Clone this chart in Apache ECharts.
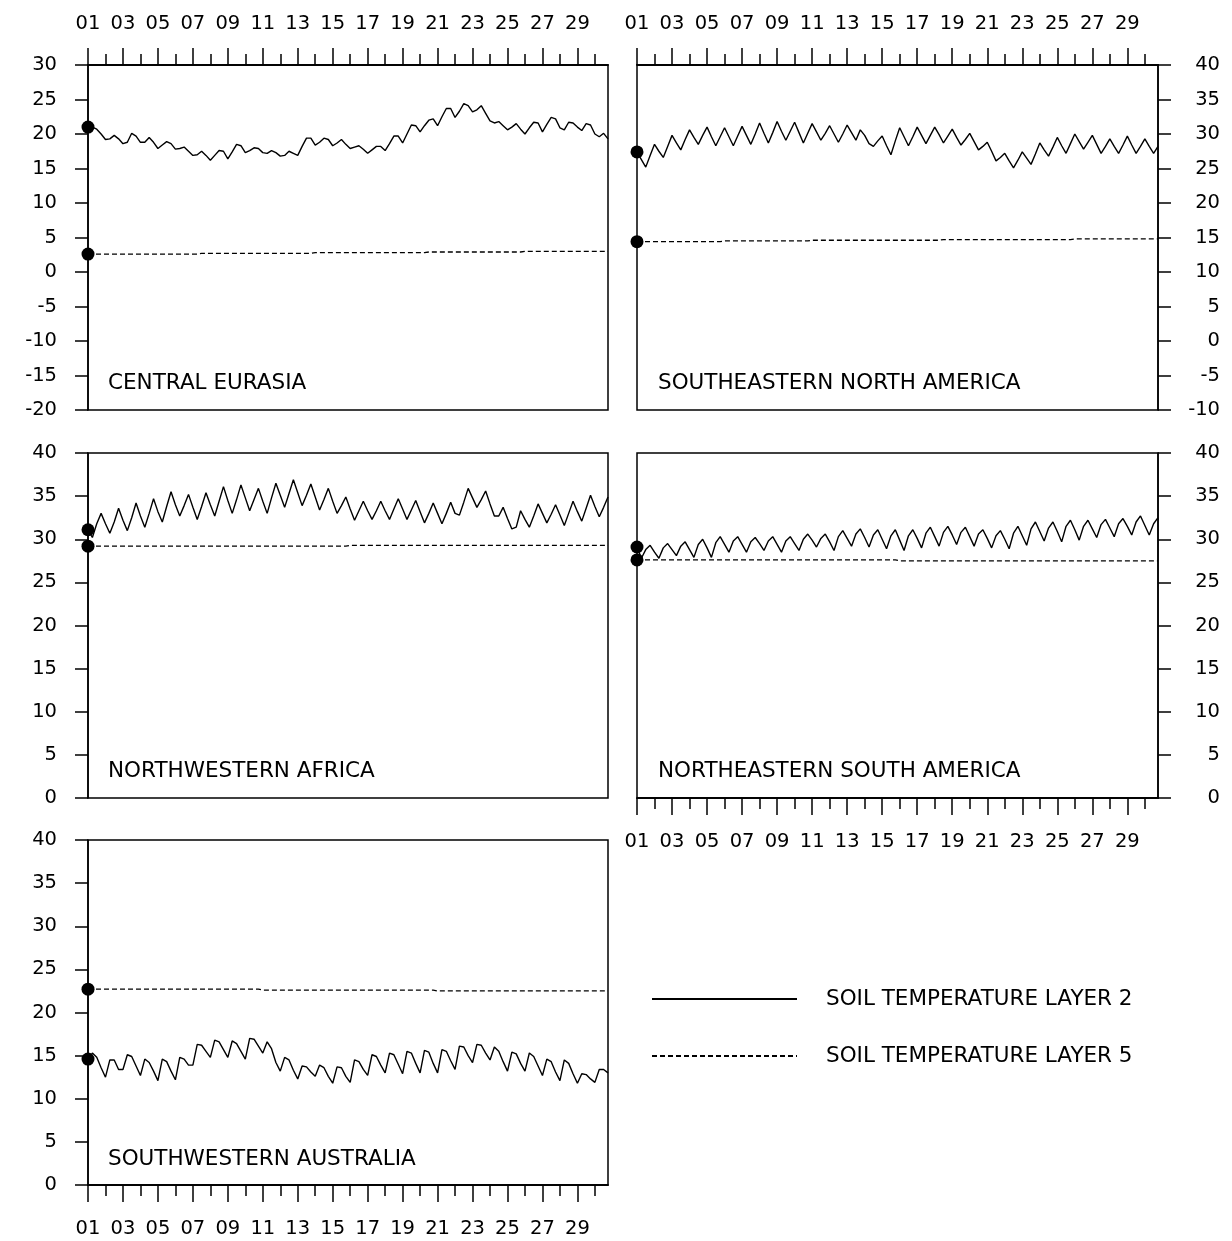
<!DOCTYPE html>
<html>
<head>
<meta charset="utf-8">
<script src="https://cdn.jsdelivr.net/npm/echarts@6/dist/echarts.min.js"></script>
<style>
html,body{margin:0;padding:0;background:#fff;}
#c{width:1232px;height:1241px;}
</style>
</head>
<body>
<div id="c"></div>
<script>
// ---------- data ----------
const days = ['01','02','03','04','05','06','07','08','09','10','11','12','13','14','15','16','17','18','19','20','21','22','23','24','25','26','27','28','29','30'];
const hours = ['00Z','06Z','12Z','18Z'];

const regionNames = ['CENTRAL EURASIA','SOUTHEASTERN NORTH AMERICA','NORTHWESTERN AFRICA','NORTHEASTERN SOUTH AMERICA','SOUTHWESTERN AUSTRALIA'];
const legendNames = ['SOIL TEMPERATURE LAYER 2','SOIL TEMPERATURE LAYER 5'];

// Central Eurasia
const ce2 = [21.0,21.0,20.7,20.0,19.2,19.3,19.8,19.3,18.6,18.8,
20.1,19.7,18.8,18.8,19.5,18.8,17.9,18.4,18.9,18.6,
17.8,17.9,18.1,17.5,16.9,17.0,17.5,16.9,16.2,16.9,
17.6,17.5,16.4,17.4,18.5,18.3,17.3,17.6,18.0,17.9,
17.3,17.2,17.6,17.3,16.8,16.9,17.5,17.2,16.9,18.2,
19.4,19.4,18.4,18.8,19.4,19.2,18.3,18.7,19.2,18.5,
17.9,18.1,18.3,17.8,17.2,17.7,18.2,18.2,17.6,18.6,
19.7,19.7,18.7,20.0,21.3,21.2,20.3,21.2,22.0,22.2,
21.2,22.5,23.7,23.7,22.4,23.3,24.4,24.1,23.2,23.5,
24.1,23.0,21.9,21.6,21.8,21.2,20.6,21.0,21.5,20.7,
20.0,20.9,21.7,21.6,20.3,21.4,22.4,22.2,20.9,20.6,
21.7,21.6,21.0,20.5,21.5,21.3,20.0,19.6,20.1,19.3];
const ce5 = [2.6,2.6,2.6,2.6,2.6,2.6,2.6,2.6,2.6,2.6,
2.6,2.6,2.6,2.6,2.6,2.6,2.6,2.6,2.6,2.6,
2.6,2.6,2.6,2.6,2.6,2.6,2.7,2.7,2.7,2.7,
2.7,2.7,2.7,2.7,2.7,2.7,2.7,2.7,2.7,2.7,
2.7,2.7,2.7,2.7,2.7,2.7,2.7,2.7,2.7,2.7,
2.7,2.7,2.8,2.8,2.8,2.8,2.8,2.8,2.8,2.8,
2.8,2.8,2.8,2.8,2.8,2.8,2.8,2.8,2.8,2.8,
2.8,2.8,2.8,2.8,2.8,2.8,2.8,2.8,2.9,2.9,
2.9,2.9,2.9,2.9,2.9,2.9,2.9,2.9,2.9,2.9,
2.9,2.9,2.9,2.9,2.9,2.9,2.9,2.9,2.9,2.9,
3.0,3.0,3.0,3.0,3.0,3.0,3.0,3.0,3.0,3.0,
3.0,3.0,3.0,3.0,3.0,3.0,3.0,3.0,3.0,3.0];

// Southeastern North America
const sna2 = [27.4,26.3,25.2,26.9,28.5,27.5,26.6,28.2,29.8,28.7,
27.7,29.2,30.6,29.5,28.5,29.8,31.0,29.6,28.3,29.6,
30.9,29.6,28.3,29.7,31.1,29.8,28.5,30.0,31.6,30.1,
28.7,30.2,31.8,30.4,29.1,30.4,31.7,30.2,28.7,30.1,
31.5,30.3,29.1,30.1,31.2,30.0,28.8,30.0,31.3,30.2,
29.1,30.6,29.8,28.6,28.2,29.0,29.7,28.3,27.0,29.0,
30.9,29.6,28.3,29.6,31.0,29.8,28.6,29.8,31.0,29.9,
28.7,29.7,30.7,29.5,28.4,29.2,30.1,28.9,27.7,28.2,
28.8,27.5,26.1,26.6,27.2,26.1,25.1,26.2,27.4,26.5,
25.6,27.1,28.7,27.7,26.8,28.1,29.5,28.3,27.2,28.6,
30.0,28.9,27.8,28.8,29.8,28.5,27.2,28.2,29.3,28.2,
27.2,28.4,29.7,28.4,27.2,28.2,29.3,28.2,27.2,28.2];
const sna5 = [14.4,14.4,14.4,14.4,14.4,14.4,14.4,14.4,14.4,14.4,
14.4,14.4,14.4,14.4,14.4,14.4,14.4,14.4,14.4,14.4,
14.5,14.5,14.5,14.5,14.5,14.5,14.5,14.5,14.5,14.5,
14.5,14.5,14.5,14.5,14.5,14.5,14.5,14.5,14.5,14.5,
14.6,14.6,14.6,14.6,14.6,14.6,14.6,14.6,14.6,14.6,
14.6,14.6,14.6,14.6,14.6,14.6,14.6,14.6,14.6,14.6,
14.6,14.6,14.6,14.6,14.6,14.6,14.6,14.6,14.6,14.6,
14.7,14.7,14.7,14.7,14.7,14.7,14.7,14.7,14.7,14.7,
14.7,14.7,14.7,14.7,14.7,14.7,14.7,14.7,14.7,14.7,
14.7,14.7,14.7,14.7,14.7,14.7,14.7,14.7,14.7,14.7,
14.8,14.8,14.8,14.8,14.8,14.8,14.8,14.8,14.8,14.8,
14.8,14.8,14.8,14.8,14.8,14.8,14.8,14.8,14.8,14.8];

// Northwestern Africa
const nwa2 = [31.1,30.2,31.8,33.0,31.8,30.7,32.0,33.6,32.2,31.0,
32.5,34.2,32.7,31.4,33.0,34.7,33.2,32.0,33.8,35.5,
34.0,32.7,33.9,35.2,33.7,32.3,33.8,35.4,34.0,32.7,
34.4,36.1,34.5,33.0,34.6,36.3,34.8,33.3,34.6,35.9,
34.4,33.0,34.8,36.5,35.1,33.7,35.3,36.9,35.4,33.9,
35.1,36.4,34.9,33.4,34.6,35.9,34.4,33.0,33.9,34.9,
33.5,32.2,33.3,34.4,33.3,32.3,33.3,34.4,33.3,32.3,
33.5,34.7,33.5,32.3,33.4,34.5,33.2,31.9,33.0,34.2,
33.0,31.8,33.0,34.3,33.0,32.8,34.3,35.9,34.8,33.7,
34.6,35.6,34.1,32.7,32.7,33.7,32.4,31.2,31.4,33.3,
32.3,31.4,32.7,34.1,33.0,31.9,32.9,34.0,32.8,31.6,
33.0,34.4,33.2,32.1,33.6,35.1,33.8,32.6,33.7,34.9];
const nwa5 = [29.2,29.2,29.2,29.2,29.2,29.2,29.2,29.2,29.2,29.2,
29.2,29.2,29.2,29.2,29.2,29.2,29.2,29.2,29.2,29.2,
29.2,29.2,29.2,29.2,29.2,29.2,29.2,29.2,29.2,29.2,
29.2,29.2,29.2,29.2,29.2,29.2,29.2,29.2,29.2,29.2,
29.2,29.2,29.2,29.2,29.2,29.2,29.2,29.2,29.2,29.2,
29.2,29.2,29.2,29.2,29.2,29.2,29.2,29.2,29.2,29.2,
29.3,29.3,29.3,29.3,29.3,29.3,29.3,29.3,29.3,29.3,
29.3,29.3,29.3,29.3,29.3,29.3,29.3,29.3,29.3,29.3,
29.3,29.3,29.3,29.3,29.3,29.3,29.3,29.3,29.3,29.3,
29.3,29.3,29.3,29.3,29.3,29.3,29.3,29.3,29.3,29.3,
29.3,29.3,29.3,29.3,29.3,29.3,29.3,29.3,29.3,29.3,
29.3,29.3,29.3,29.3,29.3,29.3,29.3,29.3,29.3,29.3];

// Northeastern South America
const nesa2 = [29.1,27.8,28.8,29.3,28.5,27.8,29.0,29.5,28.8,28.1,
29.2,29.7,28.8,27.9,29.4,30.0,29.0,27.9,29.6,30.3,
29.4,28.5,29.8,30.3,29.4,28.5,29.7,30.2,29.5,28.7,
29.8,30.3,29.4,28.5,29.8,30.3,29.5,28.7,30.0,30.6,
29.9,29.1,30.1,30.6,29.7,28.7,30.3,31.0,30.1,29.2,
30.6,31.2,30.2,29.1,30.5,31.1,30.0,28.9,30.4,31.1,
29.9,28.7,30.4,31.1,30.1,29.0,30.7,31.4,30.3,29.2,
30.8,31.5,30.5,29.4,30.8,31.4,30.3,29.2,30.6,31.1,
30.1,29.0,30.4,31.0,30.0,28.9,30.7,31.5,30.4,29.3,
31.2,32.0,30.9,29.8,31.3,32.0,30.9,29.7,31.5,32.2,
31.1,29.9,31.5,32.2,31.2,30.2,31.7,32.3,31.3,30.3,
31.8,32.4,31.5,30.5,32.0,32.7,31.6,30.5,31.8,32.5];
const nesa5 = [27.6,27.6,27.6,27.6,27.6,27.6,27.6,27.6,27.6,27.6,
27.6,27.6,27.6,27.6,27.6,27.6,27.6,27.6,27.6,27.6,
27.6,27.6,27.6,27.6,27.6,27.6,27.6,27.6,27.6,27.6,
27.6,27.6,27.6,27.6,27.6,27.6,27.6,27.6,27.6,27.6,
27.6,27.6,27.6,27.6,27.6,27.6,27.6,27.6,27.6,27.6,
27.6,27.6,27.6,27.6,27.6,27.6,27.6,27.6,27.6,27.6,
27.5,27.5,27.5,27.5,27.5,27.5,27.5,27.5,27.5,27.5,
27.5,27.5,27.5,27.5,27.5,27.5,27.5,27.5,27.5,27.5,
27.5,27.5,27.5,27.5,27.5,27.5,27.5,27.5,27.5,27.5,
27.5,27.5,27.5,27.5,27.5,27.5,27.5,27.5,27.5,27.5,
27.5,27.5,27.5,27.5,27.5,27.5,27.5,27.5,27.5,27.5,
27.5,27.5,27.5,27.5,27.5,27.5,27.5,27.5,27.5,27.5];

// Southwestern Australia
const swa2 = [14.6,15.3,14.8,13.6,12.5,14.5,14.5,13.4,13.4,15.1,
14.9,13.8,12.7,14.6,14.2,13.2,12.1,14.6,14.3,13.2,
12.2,14.8,14.6,13.9,13.9,16.3,16.2,15.5,14.8,16.8,
16.6,15.7,14.8,16.7,16.4,15.5,14.6,17.0,16.9,16.1,
15.3,16.6,15.8,14.2,13.2,14.8,14.5,13.3,12.3,13.8,
13.7,13.1,12.6,13.9,13.6,12.6,11.8,13.7,13.6,12.6,
11.9,14.5,14.3,13.4,12.7,15.1,14.9,13.9,13.0,15.3,
15.1,14.0,12.9,15.5,15.3,14.1,13.0,15.6,15.4,14.1,
13.0,15.7,15.5,14.4,13.4,16.1,16.0,15.0,14.2,16.3,
16.2,15.3,14.5,16.0,15.5,14.3,13.2,15.4,15.2,14.1,
13.2,15.3,14.9,13.8,12.7,14.6,14.3,13.1,12.1,14.5,
14.1,12.9,11.8,12.9,12.8,12.3,11.9,13.4,13.4,13.0];
const swa5 = [22.7,22.7,22.7,22.7,22.7,22.7,22.7,22.7,22.7,22.7,
22.7,22.7,22.7,22.7,22.7,22.7,22.7,22.7,22.7,22.7,
22.7,22.7,22.7,22.7,22.7,22.7,22.7,22.7,22.7,22.7,
22.7,22.7,22.7,22.7,22.7,22.7,22.7,22.7,22.7,22.7,
22.6,22.6,22.6,22.6,22.6,22.6,22.6,22.6,22.6,22.6,
22.6,22.6,22.6,22.6,22.6,22.6,22.6,22.6,22.6,22.6,
22.6,22.6,22.6,22.6,22.6,22.6,22.6,22.6,22.6,22.6,
22.6,22.6,22.6,22.6,22.6,22.6,22.6,22.6,22.6,22.6,
22.5,22.5,22.5,22.5,22.5,22.5,22.5,22.5,22.5,22.5,
22.5,22.5,22.5,22.5,22.5,22.5,22.5,22.5,22.5,22.5,
22.5,22.5,22.5,22.5,22.5,22.5,22.5,22.5,22.5,22.5,
22.5,22.5,22.5,22.5,22.5,22.5,22.5,22.5,22.5,22.5];

// ---------- layout ----------
const FONT = 'DejaVu Sans';
const BLACK = '#000';
const times = [];
days.forEach(d => hours.forEach(h => times.push(d + ' ' + h)));

const panels = [
  {l2: ce2,   l5: ce5,   box: [88, 65, 520, 345],  ymin: -20, ymax: 30, yside: 'left',  xside: 'top'},
  {l2: sna2,  l5: sna5,  box: [637, 65, 521, 345], ymin: -10, ymax: 40, yside: 'right', xside: 'top'},
  {l2: nwa2,  l5: nwa5,  box: [88, 453, 520, 345], ymin: 0,   ymax: 40, yside: 'left',  xside: null},
  {l2: nesa2, l5: nesa5, box: [637, 453, 521, 345],ymin: 0,   ymax: 40, yside: 'right', xside: 'bottom'},
  {l2: swa2,  l5: swa5,  box: [88, 840, 520, 345], ymin: 0,   ymax: 40, yside: 'left',  xside: 'bottom'}
];
const titlePos = [[108, 372], [658, 372], [108, 760], [658, 760], [108, 1148]];

const axisLineStyle = {color: BLACK, width: 1.5};
const grids = [], xAxes = [], yAxes = [], series = [], titles = [];

function makeX(gi, pos, major) {
  return {
    type: 'category', gridIndex: gi, position: pos, data: times, boundaryGap: false,
    axisLine: {show: true, onZero: false, lineStyle: axisLineStyle},
    axisTick: {show: true, inside: false, length: major ? 17 : 11,
      interval: (i) => major ? (i % 8 === 0) : (i % 8 === 4),
      lineStyle: {color: BLACK, width: 1.5}},
    axisLabel: {show: major, interval: (i) => i % 8 === 0,
      formatter: (v) => v.slice(0, 2),
      margin: pos === 'top' ? 31 : 34,
      color: BLACK, fontFamily: FONT, fontSize: 19.5},
    splitLine: {show: false}
  };
}

panels.forEach((p, gi) => {
  grids.push({left: p.box[0], top: p.box[1], width: p.box[2], height: p.box[3],
    show: true, borderColor: BLACK, borderWidth: 1.5, backgroundColor: 'transparent'});
  const xi = xAxes.length;
  if (p.xside) {
    xAxes.push(makeX(gi, p.xside, true));
    xAxes.push(makeX(gi, p.xside, false));
  } else {
    xAxes.push({type: 'category', gridIndex: gi, data: times, boundaryGap: false, show: false});
  }
  const yi = yAxes.length;
  yAxes.push({
    type: 'value', gridIndex: gi, position: p.yside, min: p.ymin, max: p.ymax, interval: 5,
    axisLine: {show: true, onZero: false, lineStyle: axisLineStyle},
    axisTick: {show: true, inside: false, length: 13, lineStyle: {color: BLACK, width: 1.5}},
    axisLabel: {color: BLACK, fontFamily: FONT, fontSize: 19.5,
      margin: p.yside === 'left' ? 31 : 62, align: 'right'},
    splitLine: {show: false}
  });
  series.push({
    type: 'line', name: legendNames[0], xAxisIndex: xi, yAxisIndex: yi, data: p.l2,
    symbol: 'none', lineStyle: {color: BLACK, width: 1.4}, itemStyle: {color: BLACK, opacity: 0}, z: 3
  });
  series.push({
    type: 'line', name: legendNames[1], xAxisIndex: xi, yAxisIndex: yi, data: p.l5,
    symbol: 'none', lineStyle: {color: BLACK, width: 1.3, type: [5, 3]}, itemStyle: {color: BLACK, opacity: 0}, z: 3
  });
  series.push({
    type: 'scatter', xAxisIndex: xi, yAxisIndex: yi, clip: false,
    data: [[0, p.l2[0]], [0, p.l5[0]]],
    symbol: 'circle', symbolSize: 13, itemStyle: {color: BLACK, opacity: 1}, z: 4
  });
  titles.push({text: regionNames[gi], left: titlePos[gi][0], top: titlePos[gi][1], padding: 0,
    textStyle: {fontFamily: FONT, fontSize: 21.5, fontWeight: 'normal', color: BLACK}});
});

const chart = echarts.init(document.getElementById('c'), null, {renderer: 'canvas'});
chart.setOption({
  animation: false,
  backgroundColor: '#fff',
  title: titles,
  grid: grids,
  xAxis: xAxes,
  yAxis: yAxes,
  legend: {
    show: true, orient: 'vertical', left: 651, top: 988, padding: 0,
    itemWidth: 145, itemHeight: 20, itemGap: 35, selectedMode: false,
    itemStyle: {opacity: 0},
    data: legendNames,
    textStyle: {fontFamily: FONT, fontSize: 21.5, color: BLACK, padding: [0, 0, 0, 24]}
  },
  series: series
});
</script>
</body>
</html>
